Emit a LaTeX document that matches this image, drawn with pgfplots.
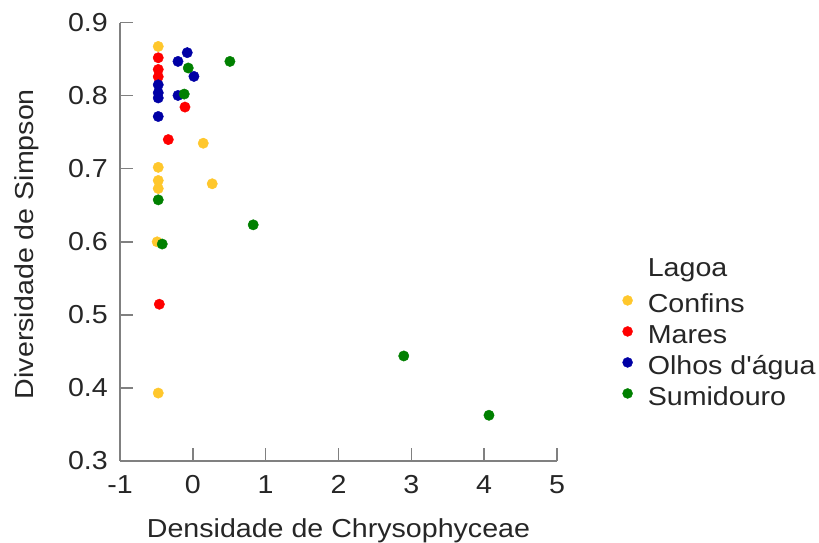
\documentclass[border=0pt]{standalone}
\usepackage{fontspec}
\setmainfont{Liberation Sans}[FakeStretch=1.1, Ligatures=TeXOff]
\usepackage{pgfplots}
\pgfplotsset{compat=1.18}
\definecolor{cConf}{RGB}{255,199,44}
\definecolor{cMar}{RGB}{255,0,0}
\definecolor{cOlh}{RGB}{0,0,165}
\definecolor{cSum}{RGB}{0,128,0}
\definecolor{axgray}{RGB}{128,128,128}
\begin{document}
\begin{tikzpicture}
\begin{axis}[
  at={(120bp,82bp)}, anchor=south west,
  scale only axis, width=437bp, height=438.3bp,
  xmin=-1, xmax=5, ymin=0.3, ymax=0.9,
  axis x line=bottom, axis y line=left,
  axis line style={-, axgray, line width=1.4bp},
  tick align=inside, major tick length=13bp,
  tick style={axgray, line width=1.4bp},
  xtick={-1,0,1,2,3,4,5}, xticklabels={-1,0,1,2,3,4,5},
  ytick={0.3,0.4,0.5,0.6,0.7,0.8,0.9}, yticklabels={0.3,0.4,0.5,0.6,0.7,0.8,0.9},
  xticklabel style={inner sep=0pt, anchor=north, yshift=-14bp},
  yticklabel style={inner sep=0pt, anchor=east, xshift=-12bp},
  ticklabel style={font=\fontsize{26bp}{30bp}\selectfont, text=black!85},
  xlabel={Densidade de Chrysophyceae},
  ylabel={Diversidade de Simpson},
  label style={font=\fontsize{26bp}{30bp}\selectfont, text=black!85},
  xlabel style={at={(axis description cs:0.5,-0.1734)}, anchor=base},
  ylabel style={at={(axis description cs:-0.199,0.495)}, anchor=base, rotate=0},
  clip=false,
  legend style={draw=none, fill=none, inner sep=0pt,
    at={(axis description cs:1.1492,0.4529)}, anchor=north west,
    font=\fontsize{26bp}{30bp}\selectfont, text=black!85,
    nodes={inner sep=0pt, text height=18.5bp, text depth=5bp},
    row sep=7.5bp, column sep=15bp},
  legend cell align=left,
  legend image code/.code={\fill (0bp,5bp) circle (5bp);},
]
\addlegendimage{empty legend}
\addlegendentry{\raisebox{4.5bp}{Lagoa}}
\addplot[only marks, mark=*, mark size=5.2bp, color=cConf] coordinates {
(-0.475,0.8675) (0.143,0.735) (-0.475,0.702) (-0.475,0.684) (-0.475,0.673) (0.266,0.6795) (-0.49,0.600) (-0.475,0.393)};
\addlegendentry{Confins}
\addplot[only marks, mark=*, mark size=5.2bp, color=cMar] coordinates {
(-0.475,0.852) (-0.475,0.836) (-0.475,0.826) (-0.108,0.7845) (-0.337,0.740) (-0.46,0.5146)};
\addlegendentry{Mares}
\addplot[only marks, mark=*, mark size=5.2bp, color=cOlh] coordinates {
(-0.077,0.859) (-0.204,0.847) (0.015,0.8265) (-0.475,0.815) (-0.475,0.804) (-0.475,0.797) (-0.204,0.8004) (-0.475,0.7716)};
\addlegendentry{Olhos d'água}
\addplot[only marks, mark=*, mark size=5.2bp, color=cSum] coordinates {
(0.509,0.847) (-0.063,0.838) (-0.118,0.8023) (-0.475,0.6575) (0.829,0.6233) (-0.42,0.597) (2.896,0.4438) (4.066,0.3626)};
\addlegendentry{Sumidouro}
\end{axis}
\pgfresetboundingbox
\path (0,0) rectangle (819bp,543bp);
\end{tikzpicture}
\end{document}
